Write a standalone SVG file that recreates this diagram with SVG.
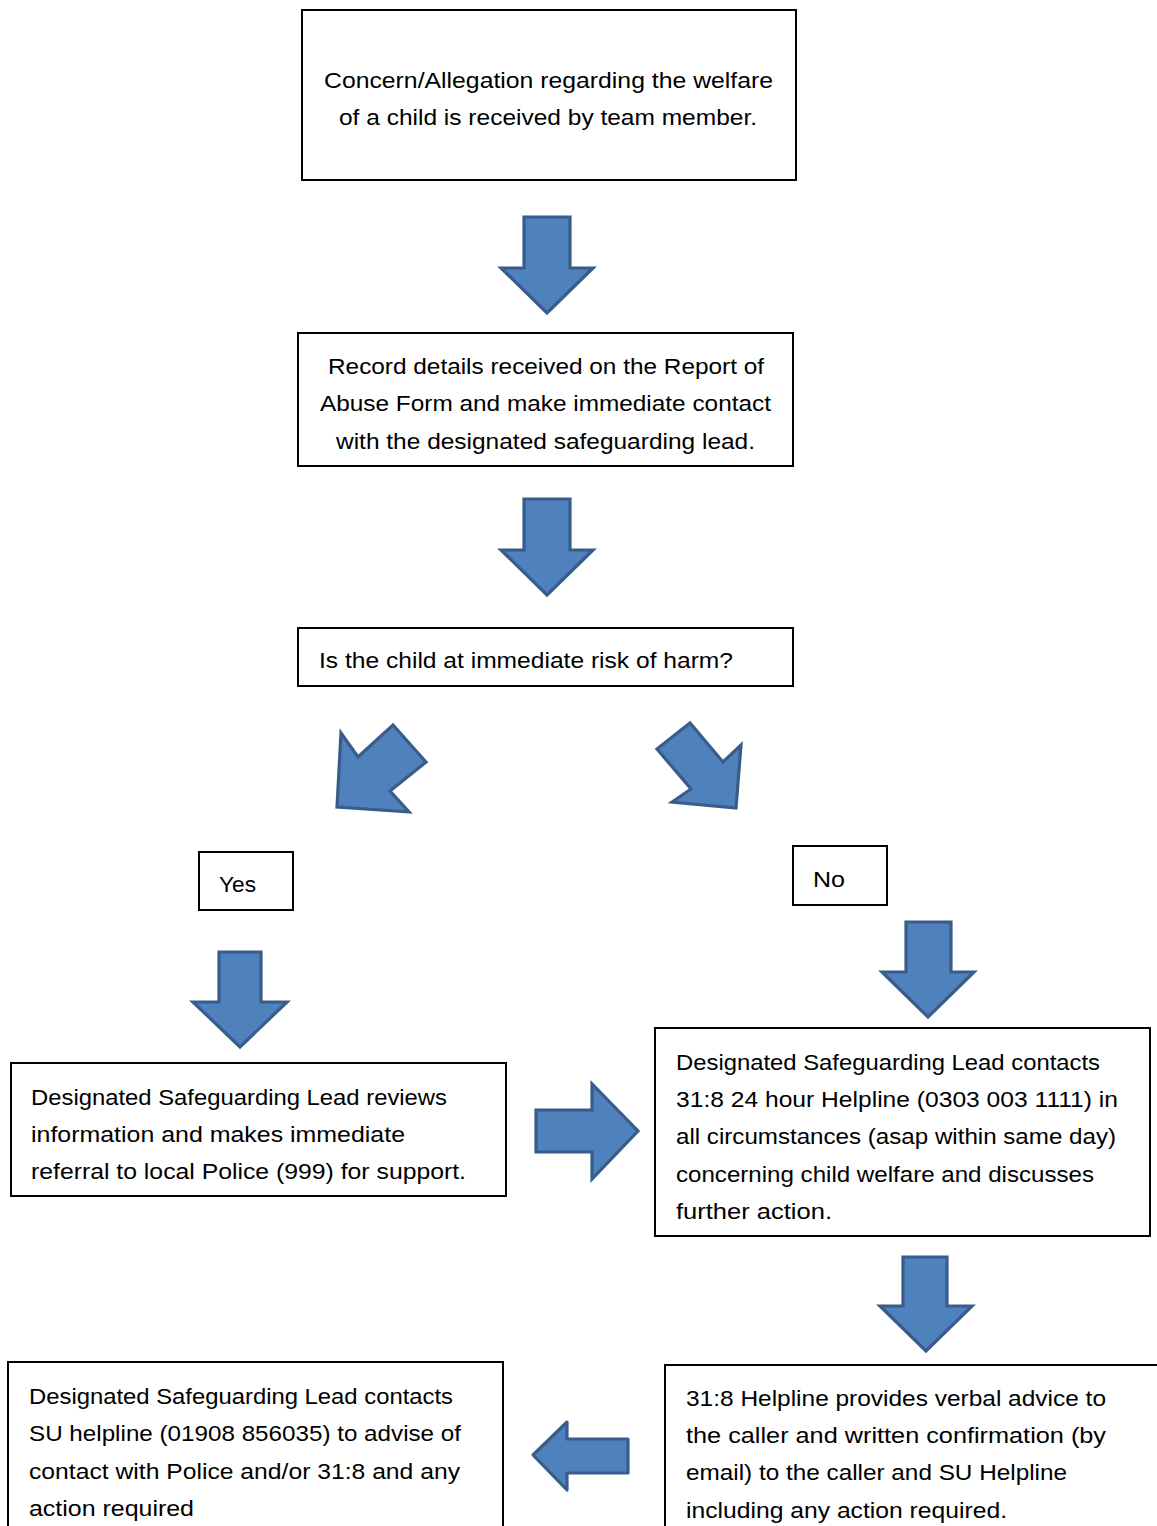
<svg xmlns="http://www.w3.org/2000/svg" width="1157" height="1526" viewBox="0 0 1157 1526">
<style>
.box{fill:#fff;stroke:#000;stroke-width:2}
.arr{fill:#4f81bd;stroke:#385d8a;stroke-width:3.2;stroke-linejoin:miter}
.t{font-family:"Liberation Sans",Arial,sans-serif;font-size:21.5px;fill:#000}
</style>
<rect width="1157" height="1526" fill="#fff"/>
<g id="connectors">
<path class="arr" d="M524,217 H570 V268 H593 L547,313 L501,268 H524 Z"/>
<path class="arr" d="M524,499 H570 V550 H593 L547,595 L501,550 H524 Z"/>
<path class="arr" d="M341,733 L358,757 L393,725 L426,762 L390,791 L409,812 L337,807 Z"/>
<path class="arr" d="M657,749 L690,723 L723,762 L741,745 L736,808 L672,802 L691,789 Z"/>
<path class="arr" d="M219,952 H261 V1002 H287 L240,1047 L193,1002 H219 Z"/>
<path class="arr" d="M906,922 H951 V972 H974 L928,1017 L882,972 H906 Z"/>
<path class="arr" d="M536,1110 H592 V1084 L638,1131 L592,1179 V1152 H536 Z"/>
<path class="arr" d="M903,1257 H947 V1306 H972 L926,1351 L880,1306 H903 Z"/>
<path class="arr" style="stroke-linejoin:round" d="M628,1439 H567 V1422 L533,1455 L567,1490 V1473 H628 Z"/>
</g>
<g id="n1">
<rect class="box" x="302" y="10" width="494" height="170"/>
<text class="t" x="324" y="88" textLength="449" lengthAdjust="spacingAndGlyphs">Concern/Allegation regarding the welfare</text>
<text class="t" x="339" y="125" textLength="418" lengthAdjust="spacingAndGlyphs">of a child is received by team member.</text>
</g>
<g id="n2">
<rect class="box" x="298" y="333" width="495" height="133"/>
<text class="t" x="328" y="374" textLength="436" lengthAdjust="spacingAndGlyphs">Record details received on the Report of</text>
<text class="t" x="320" y="411" textLength="451" lengthAdjust="spacingAndGlyphs">Abuse Form and make immediate contact</text>
<text class="t" x="336" y="449" textLength="419" lengthAdjust="spacingAndGlyphs">with the designated safeguarding lead.</text>
</g>
<g id="n3">
<rect class="box" x="298" y="628" width="495" height="58"/>
<text class="t" x="319" y="668" textLength="414" lengthAdjust="spacingAndGlyphs">Is the child at immediate risk of harm?</text>
</g>
<g id="yes">
<rect class="box" x="199" y="852" width="94" height="58"/>
<text class="t" x="219" y="892" textLength="37" lengthAdjust="spacingAndGlyphs">Yes</text>
</g>
<g id="no">
<rect class="box" x="793" y="846" width="94" height="59"/>
<text class="t" x="813" y="887" textLength="32" lengthAdjust="spacingAndGlyphs">No</text>
</g>
<g id="n4">
<rect class="box" x="11" y="1063" width="495" height="133"/>
<text class="t" x="31" y="1105" textLength="416" lengthAdjust="spacingAndGlyphs">Designated Safeguarding Lead reviews</text>
<text class="t" x="31" y="1142" textLength="374" lengthAdjust="spacingAndGlyphs">information and makes immediate</text>
<text class="t" x="31" y="1179" textLength="435" lengthAdjust="spacingAndGlyphs">referral to local Police (999) for support.</text>
</g>
<g id="n5">
<rect class="box" x="655" y="1028" width="495" height="208"/>
<text class="t" x="676" y="1070" textLength="424" lengthAdjust="spacingAndGlyphs">Designated Safeguarding Lead contacts</text>
<text class="t" x="676" y="1107" textLength="442" lengthAdjust="spacingAndGlyphs">31:8 24 hour Helpline (0303 003 1111) in</text>
<text class="t" x="676" y="1144" textLength="440" lengthAdjust="spacingAndGlyphs">all circumstances (asap within same day)</text>
<text class="t" x="676" y="1182" textLength="418" lengthAdjust="spacingAndGlyphs">concerning child welfare and discusses</text>
<text class="t" x="676" y="1219" textLength="156" lengthAdjust="spacingAndGlyphs">further action.</text>
</g>
<g id="n6">
<rect class="box" x="8" y="1362" width="495" height="180"/>
<text class="t" x="29" y="1404" textLength="424" lengthAdjust="spacingAndGlyphs">Designated Safeguarding Lead contacts</text>
<text class="t" x="29" y="1441" textLength="432" lengthAdjust="spacingAndGlyphs">SU helpline (01908 856035) to advise of</text>
<text class="t" x="29" y="1479" textLength="431" lengthAdjust="spacingAndGlyphs">contact with Police and/or 31:8 and any</text>
<text class="t" x="29" y="1516" textLength="165" lengthAdjust="spacingAndGlyphs">action required</text>
</g>
<g id="n7">
<rect class="box" x="665" y="1365" width="520" height="180"/>
<text class="t" x="686" y="1406" textLength="420" lengthAdjust="spacingAndGlyphs">31:8 Helpline provides verbal advice to</text>
<text class="t" x="686" y="1443" textLength="420" lengthAdjust="spacingAndGlyphs">the caller and written confirmation (by</text>
<text class="t" x="686" y="1480" textLength="381" lengthAdjust="spacingAndGlyphs">email) to the caller and SU Helpline</text>
<text class="t" x="686" y="1518" textLength="321" lengthAdjust="spacingAndGlyphs">including any action required.</text>
</g>
</svg>
